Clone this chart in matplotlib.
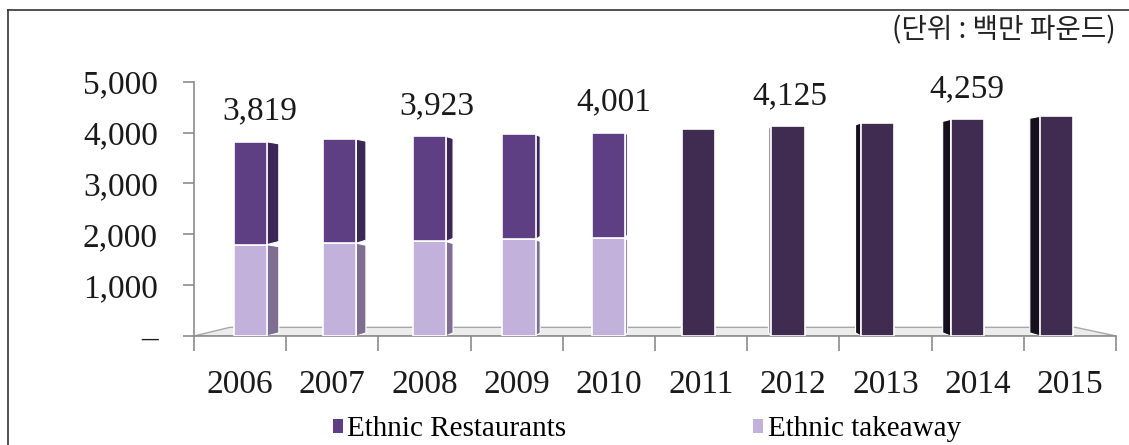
import matplotlib
matplotlib.use("Agg")
import matplotlib.pyplot as plt
import matplotlib.patches as mpatches
from matplotlib.lines import Line2D
import numpy as np

# ── Data (백만 파운드) ─────────────────────────────────────────────────────────
YEARS = ["2006", "2007", "2008", "2009", "2010",
         "2011", "2012", "2013", "2014", "2015"]
TAKEAWAY = [1796, 1824, 1858, 1898, 1924]          # 2006-2010
RESTAURANTS = [2023, 2046, 2065, 2064, 2077]       # 2006-2010
FORECAST = [4063, 4125, 4190, 4259, 4320]          # 2011-2015 totals
LABELED = {0: "3,819", 2: "3,923", 4: "4,001", 6: "4,125", 8: "4,259"}

# ── Colours ───────────────────────────────────────────────────────────────────
C_REST, C_REST_SIDE = "#5e3f84", "#3b2756"
C_TAKE, C_TAKE_SIDE = "#c2b1da", "#7d6e92"
C_FC, C_FC_SIDE = "#3f2c50", "#16101d"
SERIF = "Liberation Serif"


def box(ax, x, bottom, height, width, side, front, side_col):
    """Front face plus a thin perspective side face."""
    ax.bar(x, height, width, bottom=bottom, color=front,
           edgecolor="white", linewidth=1.2, zorder=3)
    if abs(side) < 0.005:
        return
    edge = x + width / 2 if side > 0 else x - width / 2
    top = bottom + height
    poly = [(edge, bottom), (edge + side, bottom + 60),
            (edge + side, top - 40), (edge, top)]
    ax.add_patch(mpatches.Polygon(poly, closed=True, facecolor=side_col,
                                  edgecolor="white", linewidth=0.8, zorder=2))


def main():
    fig = plt.figure(figsize=(11.29, 4.45), dpi=100)
    ax = fig.add_axes([0.1718, 0.245, 0.8167, 0.5714])

    n = len(YEARS)
    xs = np.arange(n)
    width = 0.36

    # floor
    floor = [(-0.5, 0), (9.5, 0), (9.06, 170), (-0.11, 170)]
    ax.add_patch(mpatches.Polygon(floor, closed=True, facecolor="#ececec",
                                  edgecolor="#a8a8a8", linewidth=1, zorder=1))

    for i in range(n):
        shift = 0.11 - 0.028 * i
        side = 0.13 - 0.027 * i
        x = xs[i] + shift
        if i < len(TAKEAWAY):
            box(ax, x, 0, TAKEAWAY[i], width, side, C_TAKE, C_TAKE_SIDE)
            box(ax, x, TAKEAWAY[i], RESTAURANTS[i], width, side,
                C_REST, C_REST_SIDE)
            total = TAKEAWAY[i] + RESTAURANTS[i]
        else:
            total = FORECAST[i - len(TAKEAWAY)]
            scol = "#9c99a3" if i == 6 else C_FC_SIDE
            box(ax, x, 0, total, width, side, C_FC, scol)
        if i in LABELED:
            ax.text(x + side / 2 + 0.04, total + 600, LABELED[i], ha="center",
                    va="center", fontsize=24, family=SERIF, color="#1a1a1a",
                    zorder=4)

    ax.set_xlim(-0.5, n - 0.5)
    ax.set_ylim(0, 5000)

    for s in ("top", "right"):
        ax.spines[s].set_visible(False)
    for s in ("left", "bottom"):
        ax.spines[s].set_color("#8c8c8c")
        ax.spines[s].set_linewidth(1.2)

    ax.set_yticks(np.arange(0, 5001, 1000))
    ax.set_yticklabels(["–", "1,000", "2,000", "3,000", "4,000", "5,000"],
                       family=SERIF, fontsize=24, color="#1a1a1a")
    ax.tick_params(axis="y", length=8, color="#8c8c8c", width=1.2, pad=18)

    ax.set_xticks(xs)
    ax.set_xticklabels(YEARS, family=SERIF, fontsize=24, color="#1a1a1a")
    ax.set_xticks(np.arange(-0.5, n, 1.0), minor=True)
    ax.tick_params(axis="x", which="major", length=0, pad=24)
    ax.tick_params(axis="x", which="minor", length=11, color="#8c8c8c",
                   width=1.2)

    # legend
    handles = [mpatches.Patch(facecolor=C_REST, label="Ethnic Restaurants"),
               mpatches.Patch(facecolor=C_TAKE, label="Ethnic takeaway")]
    fig.legend(handles=handles, loc="center", bbox_to_anchor=(0.573, 0.035),
               ncol=2, frameon=False, handlelength=0.35, handleheight=0.4,
               handletextpad=0.15, columnspacing=6.4,
               prop={"family": SERIF, "size": 21})

    # unit note
    fig.text(0.988, 0.932, "(단위 : 백만 파운드)", ha="right", va="center",
             fontsize=20, family=["Noto Sans CJK KR", "DejaVu Sans"],
             color="#222222")

    # outer frame (left and top)
    fig.add_artist(Line2D([8 / 1129, 8 / 1129], [0, 1 - 10 / 445],
                          transform=fig.transFigure, color="#333333", lw=1.2))
    fig.add_artist(Line2D([8 / 1129, 1], [1 - 10 / 445, 1 - 10 / 445],
                          transform=fig.transFigure, color="#333333", lw=1.2))

    fig.savefig("out.png", dpi=100, facecolor="white")


if __name__ == "__main__":
    main()
